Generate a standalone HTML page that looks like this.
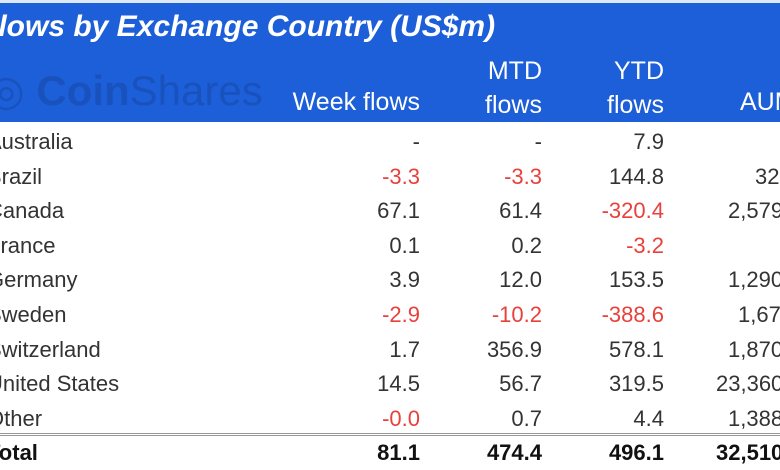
<!DOCTYPE html>
<html><head><meta charset="utf-8"><style>
body{margin:0;width:780px;height:470px;overflow:hidden;background:#fff;font-family:"Liberation Sans",sans-serif;position:relative}
#hdr{position:absolute;left:0;top:3px;width:780px;height:119px;background:#1c5fd8}
#top{position:absolute;left:0;top:0;width:780px;height:3px;background:#dfe8f7}
.t{position:absolute;white-space:nowrap}
#title{left:-20px;top:10px;font-size:30px;font-weight:bold;font-style:italic;color:#fff}
#wm{left:-12px;top:66px;font-size:42px;color:#1a52bd}
.h{color:#fff;font-size:25px;text-align:right}
.c{font-size:22px;color:#333}
.r{text-align:right}
.neg{color:#e8413c}
.b{font-weight:bold;color:#111}
#line{position:absolute;left:0;top:433px;width:780px;height:3px;border-top:1px solid #999;border-bottom:1px solid #999;box-sizing:border-box}
</style></head><body>
<div id="top"></div>
<div id="hdr"></div>
<div class="t" id="title">Flows by Exchange Country (US$m)</div>
<div class="t" id="wm">◎ <b>Coin</b>Shares</div>
<div class="t h" style="right:360px;top:88px">Week flows</div>
<div class="t h" style="right:116px;top:54px;line-height:34px">YTD<br>flows</div>
<div class="t h" style="right:238px;top:54px;line-height:34px">MTD<br>flows</div>
<div class="t h" style="left:740px;top:88px;text-align:left">AUM</div>
<div id="line"></div>
<div id="rows"></div>
<script>
const countries=["Australia","Brazil","Canada","France","Germany","Sweden","Switzerland","United States","Other","Total"];
const week=["-","-3.3","67.1","0.1","3.9","-2.9","1.7","14.5","-0.0","81.1"];
const mtd=["-","-3.3","61.4","0.2","12.0","-10.2","356.9","56.7","0.7","474.4"];
const ytd=["7.9","144.8","-320.4","-3.2","153.5","-388.6","578.1","319.5","4.4","496.1"];
const aum=["","32","2,579","","1,290","1,670","1,870","23,360","1,388","32,510"];
const aumLeft=[0,755,728,0,728,738,728,716,728,716];
const root=document.getElementById('rows');
function mk(txt,cls,style,name){const d=document.createElement('div');d.className='t c '+cls;d.textContent=txt;d.style.cssText=style;


root.appendChild(d);}
countries.forEach((c,i)=>{
 const top=129+i*34.6;const tot=i===countries.length-1;const b=tot?' b':'';
 mk(c,b,`left:-13px;top:${top}px`,'country-label');
 [[week,360,'week'],[mtd,238,'mtd'],[ytd,116,'ytd']].forEach(([arr,r,n])=>{
  const v=arr[i];const neg=v.startsWith('-')&&v.length>1&&!tot;
  mk(v,'r'+b+(neg?' neg':''),`right:${r}px;top:${top}px`,n+'-value');
 });
 if(aum[i])mk(aum[i],b,`left:${aumLeft[i]}px;top:${top}px`,'aum-value');
});
</script>
</body></html>
